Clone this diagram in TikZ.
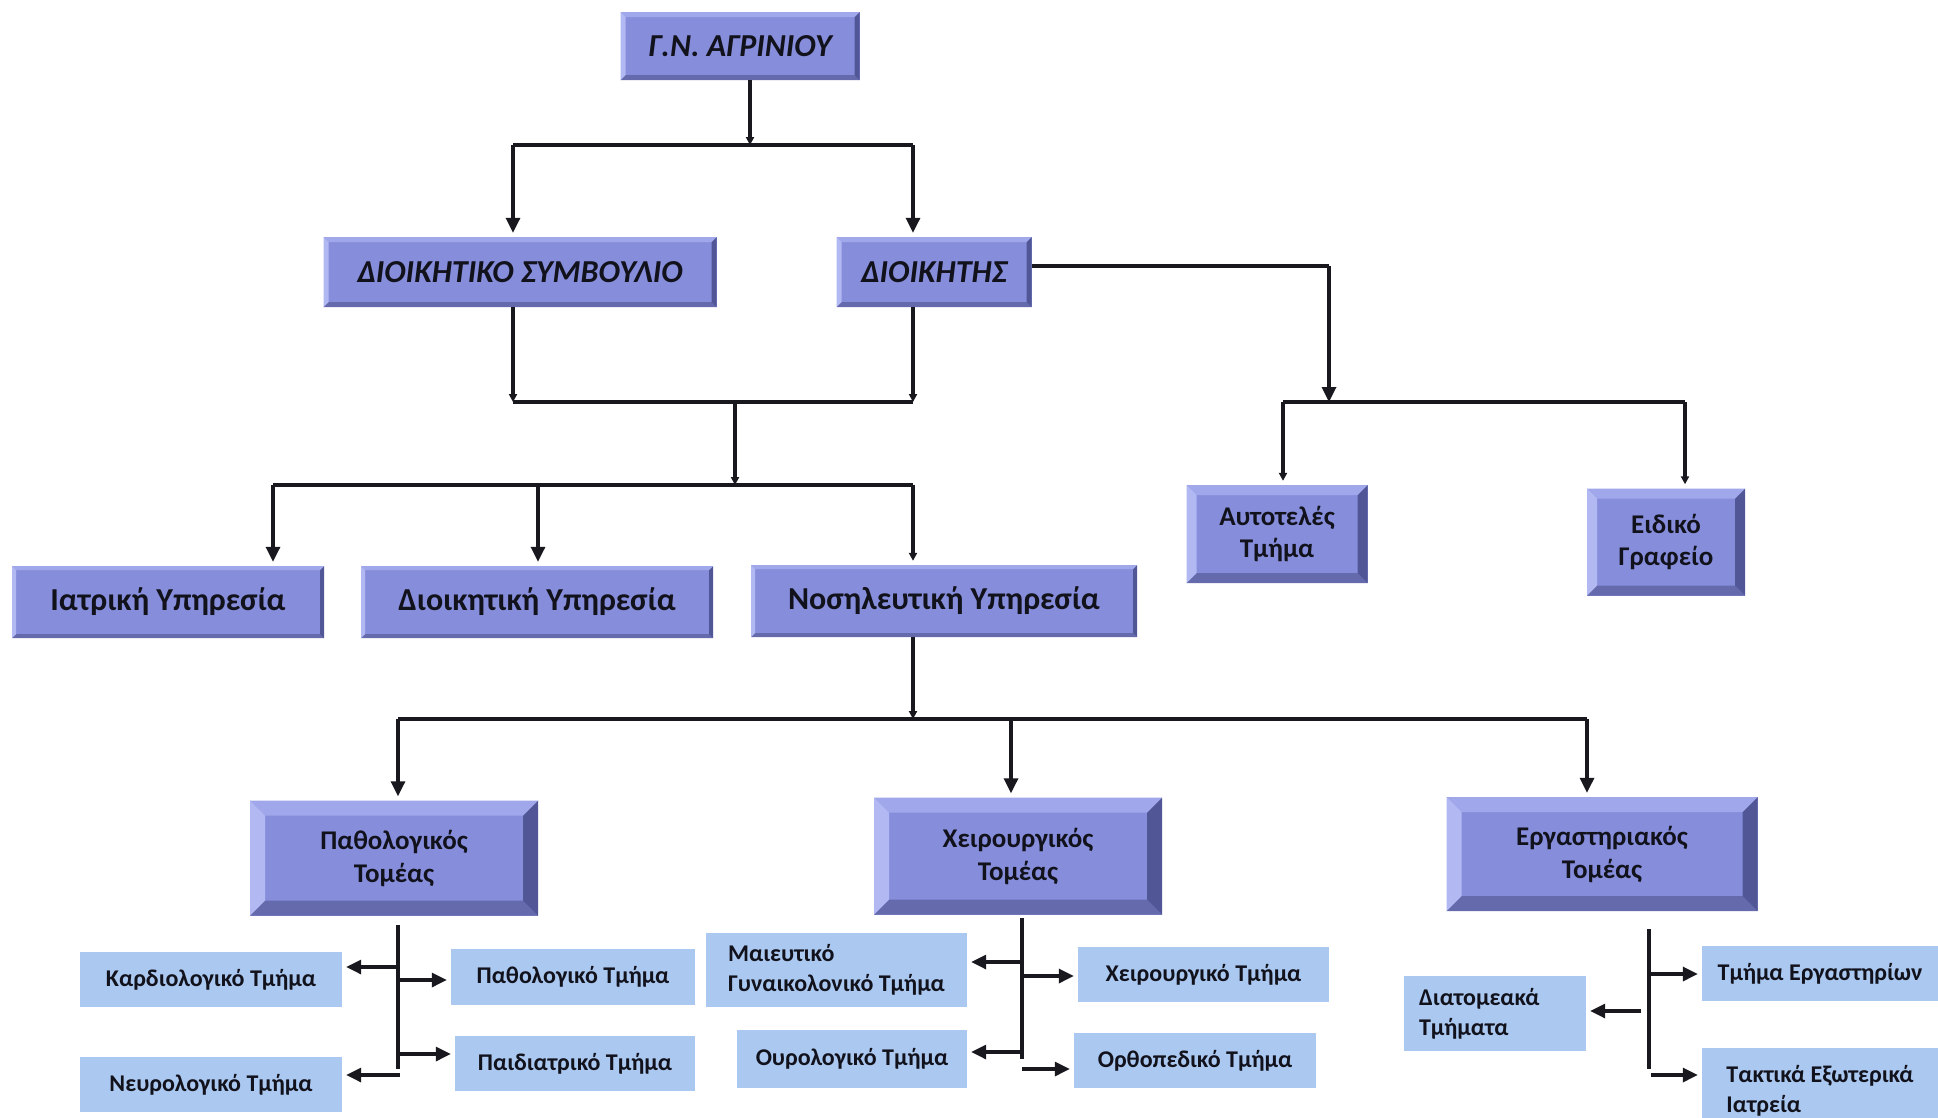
\documentclass[tikz,border=0pt]{standalone}
\usepackage{fontspec}
\setmainfont{Carlito}
\usetikzlibrary{arrows.meta,calc}
\definecolor{boxfill}{RGB}{134,142,220}
\definecolor{bevL}{RGB}{178,184,242}
\definecolor{bevT}{RGB}{160,167,234}
\definecolor{bevR}{RGB}{80,86,150}
\definecolor{bevB}{RGB}{100,106,172}
\definecolor{lboxc}{RGB}{170,200,240}
\definecolor{ink}{RGB}{18,18,28}
\definecolor{lineclr}{RGB}{24,24,30}
\tikzset{
  bev/.style={fill=boxfill, text=ink, align=center, inner sep=0pt,
    path picture={
      \fill[bevB] let \p1=(path picture bounding box.south west), \p2=(path picture bounding box.north east) in
        (\x1,\y1) -- (\x2,\y1) -- (\x2-#1,\y1+#1) -- (\x1+#1,\y1+#1) -- cycle;
      \fill[bevR] let \p1=(path picture bounding box.south west), \p2=(path picture bounding box.north east) in
        (\x2,\y1) -- (\x2,\y2) -- (\x2-#1,\y2-#1) -- (\x2-#1,\y1+#1) -- cycle;
      \fill[bevT] let \p1=(path picture bounding box.south west), \p2=(path picture bounding box.north east) in
        (\x1,\y2) -- (\x2,\y2) -- (\x2-#1,\y2-#1) -- (\x1+#1,\y2-#1) -- cycle;
      \fill[bevL] let \p1=(path picture bounding box.south west), \p2=(path picture bounding box.north east) in
        (\x1,\y1) -- (\x1,\y2) -- (\x1+#1,\y2-#1) -- (\x1+#1,\y1+#1) -- cycle;
    }},
  topbox/.style={bev=5pt, font=\bfseries\itshape\fontsize{32}{36}\selectfont},
  svcbox/.style={bev=4pt, font=\bfseries\fontsize{32}{36}\selectfont},
  midbox/.style={bev=10pt, font=\bfseries\fontsize{27}{32}\selectfont},
  secbox/.style={bev=15pt, font=\bfseries\fontsize{27}{33}\selectfont},
  lbox/.style={fill=lboxc, text=ink, inner sep=0pt, align=left, font=\bfseries\fontsize{24}{30}\selectfont},
  ln/.style={draw=lineclr, line width=3.2pt},
  arr/.style={ln, -{Triangle[length=15pt,width=14pt]}, shorten >=4pt},
  sarr/.style={ln, -{Triangle[length=8pt,width=8pt]}},
}
\begin{document}
\begin{tikzpicture}[x=1pt,y=-1pt]
\fill[white] (0,0) rectangle (1938,1117);
\useasboundingbox (0,0) rectangle (1938,1117);
\clip (0,0) rectangle (1938,1117);

% main boxes
\node[topbox, minimum width=239pt, minimum height=68pt] (gn) at (740,46) {Γ.Ν. ΑΓΡΙΝΙΟΥ};
\node[topbox, minimum width=393pt, minimum height=70pt] (ds) at (520,272) {ΔΙΟΙΚΗΤΙΚΟ ΣΥΜΒΟΥΛΙΟ};
\node[topbox, minimum width=195pt, minimum height=70pt] (di) at (934,272) {ΔΙΟΙΚΗΤΗΣ};
\node[midbox, minimum width=181pt, minimum height=98pt] (at) at (1277,534) {Αυτοτελές\\Τμήμα};
\node[midbox, minimum width=158pt, minimum height=107pt] (eg) at (1666,542) {Ειδικό\\Γραφείο};
\node[svcbox, minimum width=312pt, minimum height=72pt] (iy) at (168,602) {Ιατρική Υπηρεσία};
\node[svcbox, minimum width=352pt, minimum height=72pt] (dy) at (537,602) {Διοικητική Υπηρεσία};
\node[svcbox, minimum width=386pt, minimum height=72pt] (ny) at (944,601) {Νοσηλευτική Υπηρεσία};
\node[secbox, minimum width=288pt, minimum height=115pt] (pt) at (394,858) {Παθολογικός\\Τομέας};
\node[secbox, minimum width=288pt, minimum height=117pt] (xt) at (1018,856) {Χειρουργικός\\Τομέας};
\node[secbox, minimum width=311pt, minimum height=114pt] (et) at (1602,854) {Εργαστηριακός\\Τομέας};

% light boxes
\node[lbox, minimum width=262pt, minimum height=55pt] (kard) at (211,979.5) {Καρδιολογικό Τμήμα};
\node[lbox, minimum width=262pt, minimum height=55pt] (neur) at (211,1084.5) {Νευρολογικό Τμήμα};
\node[lbox, minimum width=244pt, minimum height=56pt] (patt) at (573,977) {Παθολογικό Τμήμα};
\node[lbox, minimum width=240pt, minimum height=55pt] (paid) at (575,1063.5) {Παιδιατρικό Τμήμα};
\node[lbox, minimum width=261pt, minimum height=74pt] (maie) at (836.5,970) {Μαιευτικό\\Γυναικολονικό Τμήμα};
\node[lbox, minimum width=230pt, minimum height=58pt] (ouro) at (852,1059) {Ουρολογικό Τμήμα};
\node[lbox, minimum width=251pt, minimum height=55pt] (xeir) at (1203.5,974.5) {Χειρουργικό Τμήμα};
\node[lbox, minimum width=242pt, minimum height=55pt] (orth) at (1195,1060.5) {Ορθοπεδικό Τμήμα};
\node[lbox, minimum width=182pt, minimum height=75pt, text width=152pt] (diat) at (1495,1013.5) {Διατομεακά\\Τμήματα};
\node[lbox, minimum width=236pt, minimum height=55pt] (ergt) at (1820,973.5) {Τμήμα Εργαστηρίων};
\node[lbox, minimum width=236pt, minimum height=85pt] (takt) at (1820,1090.5) {Τακτικά Εξωτερικά\\Ιατρεία};

% level 1
\coordinate (j1) at (750,145);
\coordinate (j1l) at (513,145);
\coordinate (j1r) at (913,145);
\draw[sarr] (gn.south -| j1) -- (j1);
\draw[ln] (j1l) -- (j1r);
\draw[arr] (j1l) -- (j1l |- ds.north);
\draw[arr] (j1r) -- (j1r |- di.north);

% director branch
\coordinate (dr) at (1329,266);
\coordinate (j2) at (1329,402);
\coordinate (j2l) at (1283,402);
\coordinate (j2r) at (1685,402);
\draw[ln] (di.east |- dr) -- (dr);
\draw[arr, shorten >=0pt] (dr) -- (j2);
\draw[ln] (j2l) -- (j2r);
\draw[sarr, shorten >=4pt] (j2l) -- (j2l |- at.north);
\draw[sarr, shorten >=4pt] (j2r) -- (j2r |- eg.north);

% board + director to services
\coordinate (j3l) at (513,402);
\coordinate (j3r) at (913,402);
\coordinate (j3) at (735,402);
\coordinate (j4) at (735,485);
\coordinate (j4l) at (273,485);
\coordinate (j4m) at (538,485);
\coordinate (j4r) at (913,485);
\draw[sarr] (j3l |- ds.south) -- (j3l);
\draw[sarr] (j3r |- di.south) -- (j3r);
\draw[ln] (j3l) -- (j3r);
\draw[sarr] (j3) -- (j4);
\draw[ln] (j4l) -- (j4r);
\draw[arr] (j4l) -- (j4l |- iy.north);
\draw[arr] (j4m) -- (j4m |- dy.north);
\draw[sarr, shorten >=4pt] (j4r) -- (j4r |- ny.north);

% nursing to sectors
\coordinate (j5) at (913,719);
\coordinate (j5l) at (398,719);
\coordinate (j5m) at (1011,719);
\coordinate (j5r) at (1587,719);
\draw[sarr] (j5 |- ny.south) -- (j5);
\draw[ln] (j5l) -- (j5r);
\draw[arr] (j5l) -- (j5l |- pt.north);
\draw[arr] (j5m) -- (j5m |- xt.north);
\draw[arr] (j5r) -- (j5r |- et.north);

% group 1
\coordinate (v1t) at (398,925);
\coordinate (v1b) at (398,1069);
\coordinate (g1a) at (398,967);
\coordinate (g1b) at (398,980);
\coordinate (g1c) at (400,1054);
\coordinate (g1d) at (400,1075);
\draw[ln] (v1t) -- (v1b);
\draw[arr] (g1a) -- (kard.east |- g1a);
\draw[arr] (g1b) -- (patt.west |- g1b);
\draw[arr] (g1c) -- (paid.west |- g1c);
\draw[arr] (g1d) -- (neur.east |- g1d);

% group 2
\coordinate (v2t) at (1022,918);
\coordinate (v2b) at (1022,1059);
\coordinate (g2a) at (1022,962);
\coordinate (g2b) at (1022,976);
\coordinate (g2c) at (1022,1052);
\coordinate (g2d) at (1022,1069);
\draw[ln] (v2t) -- (v2b);
\draw[arr] (g2a) -- (maie.east |- g2a);
\draw[arr] (g2b) -- (xeir.west |- g2b);
\draw[arr] (g2c) -- (ouro.east |- g2c);
\draw[arr] (g2d) -- (orth.west |- g2d);

% group 3
\coordinate (v3t) at (1649,929);
\coordinate (v3b) at (1649,1069);
\coordinate (g3a) at (1649,974);
\coordinate (g3b) at (1641,1011);
\coordinate (g3c) at (1651,1075);
\draw[ln] (v3t) -- (v3b);
\draw[arr] (g3a) -- (ergt.west |- g3a);
\draw[arr] (g3b) -- (diat.east |- g3b);
\draw[arr] (g3c) -- (takt.west |- g3c);
\end{tikzpicture}
\end{document}
